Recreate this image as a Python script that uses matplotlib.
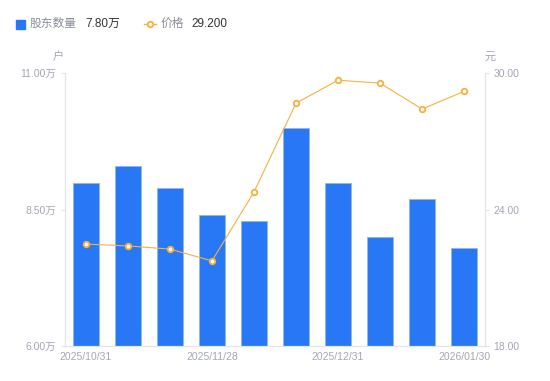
import matplotlib
matplotlib.use("Agg")
import matplotlib.pyplot as plt
from matplotlib.lines import Line2D
from matplotlib.patches import Rectangle

plt.rcParams['font.family'] = ['Liberation Sans', 'Noto Sans CJK SC', 'DejaVu Sans']

# data
dates = ["2025/10/31", "2025/11/10", "2025/11/20", "2025/11/28", "2025/12/10",
         "2025/12/19", "2025/12/31", "2026/01/09", "2026/01/20", "2026/01/30"]
holders = [8.99, 9.30, 8.89, 8.40, 8.29, 9.99, 8.99, 8.00, 8.69, 7.80]   # 万户
price = [22.48, 22.40, 22.26, 21.74, 24.77, 28.68, 29.69, 29.56, 28.42, 29.20]
show_idx = [0, 3, 6, 9]

bar_color = "#2878f5"
line_color = "#f7b13c"
tick_color = "#a3a6b4"
axis_color = "#e3e4e8"

fig = plt.figure(figsize=(5.5, 3.81), dpi=100)
ax = fig.add_axes([0.118, 0.092, 0.764, 0.716])
ax2 = ax.twinx()

x = list(range(len(dates)))
ax.bar(x, holders, width=0.6, color=bar_color, edgecolor="#8fb6fa", linewidth=0.6, zorder=2)
ax.set_xlim(-0.5, len(dates) - 0.5)
ax.set_ylim(6.0, 11.0)
ax.set_yticks([6.0, 8.5, 11.0])
ax.set_yticklabels([f"{v:.2f}万" for v in [6.0, 8.5, 11.0]])
ax.set_xticks([x[i] for i in show_idx])
ax.set_xticklabels([dates[i] for i in show_idx])

ax2.plot(x, price, color=line_color, linewidth=0.8, marker="o", markersize=4,
         markerfacecolor="white", markeredgecolor=line_color, markeredgewidth=1.3, zorder=3)
ax2.set_ylim(18, 30)
ax2.set_yticks([18, 24, 30])
ax2.set_yticklabels(["18.00", "24.00", "30.00"])

for a in (ax, ax2):
    for s in a.spines.values():
        s.set_color(axis_color)
        s.set_linewidth(0.8)
    a.spines["top"].set_visible(False)
    a.tick_params(colors=tick_color, labelsize=7.5, length=3, width=0.8)
ax.tick_params(axis="x", length=0, pad=4)
ax.tick_params(axis="y", color=axis_color)
ax2.tick_params(axis="y", color=axis_color, pad=3)
ax.set_zorder(ax2.get_zorder() - 1)
ax2.patch.set_visible(False)

# units
fig.text(58 / 550, 1 - 57 / 381, "户", color=tick_color, fontsize=8, ha="center", va="center")
fig.text(490 / 550, 1 - 57 / 381, "元", color=tick_color, fontsize=8, ha="center", va="center")

# legend
fig.patches.append(Rectangle((16 / 550, 1 - 29 / 381), 9 / 550, 9 / 381,
                             transform=fig.transFigure, color=bar_color))
fig.text(30 / 550, 1 - 24 / 381, "股东数量", color="#8a8d99", fontsize=8.5, va="center")
fig.text(85 / 550, 1 - 24 / 381, "7.80万", color="#333333", fontsize=8.5, va="center")
fig.lines.append(Line2D([144 / 550, 156 / 550], [1 - 24 / 381] * 2, transform=fig.transFigure,
                        color=line_color, linewidth=1))
fig.lines.append(Line2D([150 / 550], [1 - 24 / 381], transform=fig.transFigure, marker="o",
                        markersize=4, markerfacecolor="white", markeredgecolor=line_color,
                        markeredgewidth=1.3, linestyle="none"))
fig.text(161 / 550, 1 - 24 / 381, "价格", color="#8a8d99", fontsize=8.5, va="center")
fig.text(191 / 550, 1 - 24 / 381, "29.200", color="#333333", fontsize=8.5, va="center")

fig.savefig("out.png", dpi=100)
